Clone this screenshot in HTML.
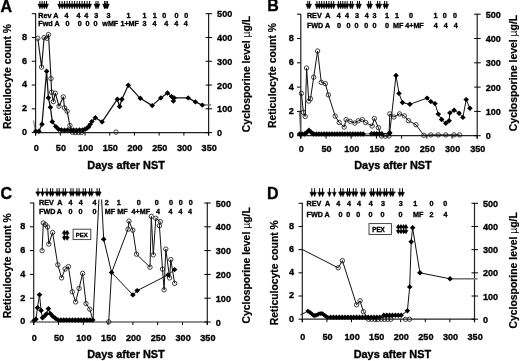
<!DOCTYPE html>
<html><head><meta charset="utf-8"><style>
html,body{margin:0;padding:0;background:#fff;width:520px;height:361px;overflow:hidden}
svg{display:block;will-change:transform}
text{fill:#000;stroke:#000;stroke-width:0.35px}
</style></head><body>
<svg width="520" height="361" viewBox="0 0 520 361" font-family='"Liberation Sans", sans-serif' font-weight="bold">
<rect width="520" height="361" fill="#fff"/>
<line x1="35.60" y1="13.20" x2="35.60" y2="135.60" stroke="#222" stroke-width="1.2" />
<line x1="208.60" y1="13.20" x2="208.60" y2="135.60" stroke="#222" stroke-width="1.2" />
<line x1="35.10" y1="132.60" x2="209.10" y2="132.60" stroke="#222" stroke-width="1.2" />
<line x1="31.80" y1="132.60" x2="35.60" y2="132.60" stroke="#000" stroke-width="1.0" />
<text transform="translate(27.00,135.00) scale(0.92,1)" font-size="9.9" text-anchor="end">0</text>
<line x1="31.80" y1="108.82" x2="35.60" y2="108.82" stroke="#000" stroke-width="1.0" />
<text transform="translate(27.00,111.22) scale(0.92,1)" font-size="9.9" text-anchor="end">2</text>
<line x1="31.80" y1="85.04" x2="35.60" y2="85.04" stroke="#000" stroke-width="1.0" />
<text transform="translate(27.00,87.44) scale(0.92,1)" font-size="9.9" text-anchor="end">4</text>
<line x1="31.80" y1="61.26" x2="35.60" y2="61.26" stroke="#000" stroke-width="1.0" />
<text transform="translate(27.00,63.66) scale(0.92,1)" font-size="9.9" text-anchor="end">6</text>
<line x1="31.80" y1="37.48" x2="35.60" y2="37.48" stroke="#000" stroke-width="1.0" />
<text transform="translate(27.00,39.88) scale(0.92,1)" font-size="9.9" text-anchor="end">8</text>
<line x1="31.80" y1="13.70" x2="35.60" y2="13.70" stroke="#000" stroke-width="1.0" />
<line x1="205.60" y1="132.60" x2="212.10" y2="132.60" stroke="#000" stroke-width="1.0" />
<text transform="translate(217.10,136.10) scale(0.92,1)" font-size="9.9" text-anchor="start">0</text>
<line x1="205.60" y1="108.82" x2="212.10" y2="108.82" stroke="#000" stroke-width="1.0" />
<text transform="translate(217.10,112.32) scale(0.92,1)" font-size="9.9" text-anchor="start">100</text>
<line x1="205.60" y1="85.04" x2="212.10" y2="85.04" stroke="#000" stroke-width="1.0" />
<text transform="translate(217.10,88.54) scale(0.92,1)" font-size="9.9" text-anchor="start">200</text>
<line x1="205.60" y1="61.26" x2="212.10" y2="61.26" stroke="#000" stroke-width="1.0" />
<text transform="translate(217.10,64.76) scale(0.92,1)" font-size="9.9" text-anchor="start">300</text>
<line x1="205.60" y1="37.48" x2="212.10" y2="37.48" stroke="#000" stroke-width="1.0" />
<text transform="translate(217.10,40.98) scale(0.92,1)" font-size="9.9" text-anchor="start">400</text>
<line x1="205.60" y1="13.70" x2="212.10" y2="13.70" stroke="#000" stroke-width="1.0" />
<text transform="translate(217.10,17.20) scale(0.92,1)" font-size="9.9" text-anchor="start">500</text>
<line x1="35.60" y1="132.60" x2="35.60" y2="135.60" stroke="#000" stroke-width="1.0" />
<text transform="translate(36.20,151.10) scale(0.92,1)" font-size="9.9" text-anchor="middle">0</text>
<line x1="60.31" y1="132.60" x2="60.31" y2="135.60" stroke="#000" stroke-width="1.0" />
<text transform="translate(60.91,151.10) scale(0.92,1)" font-size="9.9" text-anchor="middle">50</text>
<line x1="85.03" y1="132.60" x2="85.03" y2="135.60" stroke="#000" stroke-width="1.0" />
<text transform="translate(85.63,151.10) scale(0.92,1)" font-size="9.9" text-anchor="middle">100</text>
<line x1="109.74" y1="132.60" x2="109.74" y2="135.60" stroke="#000" stroke-width="1.0" />
<text transform="translate(110.34,151.10) scale(0.92,1)" font-size="9.9" text-anchor="middle">150</text>
<line x1="134.46" y1="132.60" x2="134.46" y2="135.60" stroke="#000" stroke-width="1.0" />
<text transform="translate(135.06,151.10) scale(0.92,1)" font-size="9.9" text-anchor="middle">200</text>
<line x1="159.17" y1="132.60" x2="159.17" y2="135.60" stroke="#000" stroke-width="1.0" />
<text transform="translate(159.77,151.10) scale(0.92,1)" font-size="9.9" text-anchor="middle">250</text>
<line x1="183.89" y1="132.60" x2="183.89" y2="135.60" stroke="#000" stroke-width="1.0" />
<text transform="translate(184.49,151.10) scale(0.92,1)" font-size="9.9" text-anchor="middle">300</text>
<line x1="208.60" y1="132.60" x2="208.60" y2="135.60" stroke="#000" stroke-width="1.0" />
<text transform="translate(209.20,151.10) scale(0.92,1)" font-size="9.9" text-anchor="middle">350</text>
<text x="126.10" y="168.60" font-size="10.9" text-anchor="middle" >Days after NST</text>
<text x="0" y="0" font-size="10.4" text-anchor="middle" style="stroke-width:0.2px" transform="translate(11.20,76.50) rotate(-90)">Reticulocyte count %</text>
<text x="0" y="0" font-size="10.4" text-anchor="middle" style="stroke-width:0.2px" transform="translate(250.20,74.00) rotate(-90)">Cyclosporine level <tspan font-weight="normal" stroke-width="0">µ</tspan>g/L</text>
<text x="0.60" y="11.50" font-size="16" text-anchor="start" >A</text>
<line x1="300.80" y1="13.70" x2="300.80" y2="138.70" stroke="#222" stroke-width="1.2" />
<line x1="477.20" y1="13.70" x2="477.20" y2="138.70" stroke="#222" stroke-width="1.2" />
<line x1="300.30" y1="135.70" x2="477.70" y2="135.70" stroke="#222" stroke-width="1.2" />
<line x1="297.00" y1="135.70" x2="300.80" y2="135.70" stroke="#000" stroke-width="1.0" />
<text transform="translate(293.75,138.10) scale(0.92,1)" font-size="9.9" text-anchor="end">0</text>
<line x1="297.00" y1="111.40" x2="300.80" y2="111.40" stroke="#000" stroke-width="1.0" />
<text transform="translate(293.75,113.80) scale(0.92,1)" font-size="9.9" text-anchor="end">2</text>
<line x1="297.00" y1="87.10" x2="300.80" y2="87.10" stroke="#000" stroke-width="1.0" />
<text transform="translate(293.75,89.50) scale(0.92,1)" font-size="9.9" text-anchor="end">4</text>
<line x1="297.00" y1="62.80" x2="300.80" y2="62.80" stroke="#000" stroke-width="1.0" />
<text transform="translate(293.75,65.20) scale(0.92,1)" font-size="9.9" text-anchor="end">6</text>
<line x1="297.00" y1="38.50" x2="300.80" y2="38.50" stroke="#000" stroke-width="1.0" />
<text transform="translate(293.75,40.90) scale(0.92,1)" font-size="9.9" text-anchor="end">8</text>
<line x1="297.00" y1="14.20" x2="300.80" y2="14.20" stroke="#000" stroke-width="1.0" />
<line x1="474.20" y1="135.70" x2="480.70" y2="135.70" stroke="#000" stroke-width="1.0" />
<text transform="translate(485.70,139.20) scale(0.92,1)" font-size="9.9" text-anchor="start">0</text>
<line x1="474.20" y1="111.40" x2="480.70" y2="111.40" stroke="#000" stroke-width="1.0" />
<text transform="translate(485.70,114.90) scale(0.92,1)" font-size="9.9" text-anchor="start">100</text>
<line x1="474.20" y1="87.10" x2="480.70" y2="87.10" stroke="#000" stroke-width="1.0" />
<text transform="translate(485.70,90.60) scale(0.92,1)" font-size="9.9" text-anchor="start">200</text>
<line x1="474.20" y1="62.80" x2="480.70" y2="62.80" stroke="#000" stroke-width="1.0" />
<text transform="translate(485.70,66.30) scale(0.92,1)" font-size="9.9" text-anchor="start">300</text>
<line x1="474.20" y1="38.50" x2="480.70" y2="38.50" stroke="#000" stroke-width="1.0" />
<text transform="translate(485.70,42.00) scale(0.92,1)" font-size="9.9" text-anchor="start">400</text>
<line x1="474.20" y1="14.20" x2="480.70" y2="14.20" stroke="#000" stroke-width="1.0" />
<text transform="translate(485.70,17.70) scale(0.92,1)" font-size="9.9" text-anchor="start">500</text>
<line x1="300.80" y1="135.70" x2="300.80" y2="138.70" stroke="#000" stroke-width="1.0" />
<text transform="translate(301.40,151.50) scale(0.92,1)" font-size="9.9" text-anchor="middle">0</text>
<line x1="326.00" y1="135.70" x2="326.00" y2="138.70" stroke="#000" stroke-width="1.0" />
<text transform="translate(326.60,151.50) scale(0.92,1)" font-size="9.9" text-anchor="middle">50</text>
<line x1="351.20" y1="135.70" x2="351.20" y2="138.70" stroke="#000" stroke-width="1.0" />
<text transform="translate(351.80,151.50) scale(0.92,1)" font-size="9.9" text-anchor="middle">100</text>
<line x1="376.40" y1="135.70" x2="376.40" y2="138.70" stroke="#000" stroke-width="1.0" />
<text transform="translate(377.00,151.50) scale(0.92,1)" font-size="9.9" text-anchor="middle">150</text>
<line x1="401.60" y1="135.70" x2="401.60" y2="138.70" stroke="#000" stroke-width="1.0" />
<text transform="translate(402.20,151.50) scale(0.92,1)" font-size="9.9" text-anchor="middle">200</text>
<line x1="426.80" y1="135.70" x2="426.80" y2="138.70" stroke="#000" stroke-width="1.0" />
<text transform="translate(427.40,151.50) scale(0.92,1)" font-size="9.9" text-anchor="middle">250</text>
<line x1="452.00" y1="135.70" x2="452.00" y2="138.70" stroke="#000" stroke-width="1.0" />
<text transform="translate(452.60,151.50) scale(0.92,1)" font-size="9.9" text-anchor="middle">300</text>
<line x1="477.20" y1="135.70" x2="477.20" y2="138.70" stroke="#000" stroke-width="1.0" />
<text transform="translate(477.80,151.50) scale(0.92,1)" font-size="9.9" text-anchor="middle">350</text>
<text x="393.00" y="168.50" font-size="10.9" text-anchor="middle" >Days after NST</text>
<text x="0" y="0" font-size="10.4" text-anchor="middle" style="stroke-width:0.2px" transform="translate(275.80,75.50) rotate(-90)">Reticulocyte count %</text>
<text x="0" y="0" font-size="10.4" text-anchor="middle" style="stroke-width:0.2px" transform="translate(516.50,73.00) rotate(-90)">Cyclosporine level <tspan font-weight="normal" stroke-width="0">µ</tspan>g/L</text>
<text x="267.30" y="11.40" font-size="16" text-anchor="start" >B</text>
<line x1="33.70" y1="202.50" x2="33.70" y2="325.00" stroke="#222" stroke-width="1.2" />
<line x1="207.30" y1="202.50" x2="207.30" y2="325.00" stroke="#222" stroke-width="1.2" />
<line x1="33.20" y1="322.00" x2="207.80" y2="322.00" stroke="#222" stroke-width="1.2" />
<line x1="29.90" y1="322.00" x2="33.70" y2="322.00" stroke="#000" stroke-width="1.0" />
<text transform="translate(25.20,324.40) scale(0.92,1)" font-size="9.9" text-anchor="end">0</text>
<line x1="29.90" y1="298.20" x2="33.70" y2="298.20" stroke="#000" stroke-width="1.0" />
<text transform="translate(25.20,300.60) scale(0.92,1)" font-size="9.9" text-anchor="end">2</text>
<line x1="29.90" y1="274.40" x2="33.70" y2="274.40" stroke="#000" stroke-width="1.0" />
<text transform="translate(25.20,276.80) scale(0.92,1)" font-size="9.9" text-anchor="end">4</text>
<line x1="29.90" y1="250.60" x2="33.70" y2="250.60" stroke="#000" stroke-width="1.0" />
<text transform="translate(25.20,253.00) scale(0.92,1)" font-size="9.9" text-anchor="end">6</text>
<line x1="29.90" y1="226.80" x2="33.70" y2="226.80" stroke="#000" stroke-width="1.0" />
<text transform="translate(25.20,229.20) scale(0.92,1)" font-size="9.9" text-anchor="end">8</text>
<line x1="29.90" y1="203.00" x2="33.70" y2="203.00" stroke="#000" stroke-width="1.0" />
<line x1="204.30" y1="322.00" x2="210.80" y2="322.00" stroke="#000" stroke-width="1.0" />
<text transform="translate(215.80,325.50) scale(0.92,1)" font-size="9.9" text-anchor="start">0</text>
<line x1="204.30" y1="298.20" x2="210.80" y2="298.20" stroke="#000" stroke-width="1.0" />
<text transform="translate(215.80,301.70) scale(0.92,1)" font-size="9.9" text-anchor="start">100</text>
<line x1="204.30" y1="274.40" x2="210.80" y2="274.40" stroke="#000" stroke-width="1.0" />
<text transform="translate(215.80,277.90) scale(0.92,1)" font-size="9.9" text-anchor="start">200</text>
<line x1="204.30" y1="250.60" x2="210.80" y2="250.60" stroke="#000" stroke-width="1.0" />
<text transform="translate(215.80,254.10) scale(0.92,1)" font-size="9.9" text-anchor="start">300</text>
<line x1="204.30" y1="226.80" x2="210.80" y2="226.80" stroke="#000" stroke-width="1.0" />
<text transform="translate(215.80,230.30) scale(0.92,1)" font-size="9.9" text-anchor="start">400</text>
<line x1="204.30" y1="203.00" x2="210.80" y2="203.00" stroke="#000" stroke-width="1.0" />
<text transform="translate(215.80,206.50) scale(0.92,1)" font-size="9.9" text-anchor="start">500</text>
<line x1="33.70" y1="322.00" x2="33.70" y2="325.00" stroke="#000" stroke-width="1.0" />
<text transform="translate(34.30,341.00) scale(0.92,1)" font-size="9.9" text-anchor="middle">0</text>
<line x1="58.50" y1="322.00" x2="58.50" y2="325.00" stroke="#000" stroke-width="1.0" />
<text transform="translate(59.10,341.00) scale(0.92,1)" font-size="9.9" text-anchor="middle">50</text>
<line x1="83.30" y1="322.00" x2="83.30" y2="325.00" stroke="#000" stroke-width="1.0" />
<text transform="translate(83.90,341.00) scale(0.92,1)" font-size="9.9" text-anchor="middle">100</text>
<line x1="108.10" y1="322.00" x2="108.10" y2="325.00" stroke="#000" stroke-width="1.0" />
<text transform="translate(108.70,341.00) scale(0.92,1)" font-size="9.9" text-anchor="middle">150</text>
<line x1="132.90" y1="322.00" x2="132.90" y2="325.00" stroke="#000" stroke-width="1.0" />
<text transform="translate(133.50,341.00) scale(0.92,1)" font-size="9.9" text-anchor="middle">200</text>
<line x1="157.70" y1="322.00" x2="157.70" y2="325.00" stroke="#000" stroke-width="1.0" />
<text transform="translate(158.30,341.00) scale(0.92,1)" font-size="9.9" text-anchor="middle">250</text>
<line x1="182.50" y1="322.00" x2="182.50" y2="325.00" stroke="#000" stroke-width="1.0" />
<text transform="translate(183.10,341.00) scale(0.92,1)" font-size="9.9" text-anchor="middle">300</text>
<line x1="207.30" y1="322.00" x2="207.30" y2="325.00" stroke="#000" stroke-width="1.0" />
<text transform="translate(207.90,341.00) scale(0.92,1)" font-size="9.9" text-anchor="middle">350</text>
<text x="126.00" y="358.00" font-size="10.9" text-anchor="middle" >Days after NST</text>
<text x="0" y="0" font-size="10.4" text-anchor="middle" style="stroke-width:0.2px" transform="translate(11.20,265.70) rotate(-90)">Reticulocyte count %</text>
<text x="0" y="0" font-size="10.4" text-anchor="middle" style="stroke-width:0.2px" transform="translate(250.20,265.40) rotate(-90)">Cyclosporine level <tspan font-weight="normal" stroke-width="0">µ</tspan>g/L</text>
<text x="0.50" y="199.40" font-size="16" text-anchor="start" >C</text>
<line x1="302.30" y1="202.80" x2="302.30" y2="322.20" stroke="#222" stroke-width="1.2" />
<line x1="474.50" y1="202.80" x2="474.50" y2="322.20" stroke="#222" stroke-width="1.2" />
<line x1="301.80" y1="319.20" x2="475.00" y2="319.20" stroke="#222" stroke-width="1.2" />
<line x1="298.50" y1="319.20" x2="302.30" y2="319.20" stroke="#000" stroke-width="1.0" />
<text transform="translate(294.10,321.60) scale(0.92,1)" font-size="9.9" text-anchor="end">0</text>
<line x1="298.50" y1="296.02" x2="302.30" y2="296.02" stroke="#000" stroke-width="1.0" />
<text transform="translate(294.10,298.42) scale(0.92,1)" font-size="9.9" text-anchor="end">2</text>
<line x1="298.50" y1="272.84" x2="302.30" y2="272.84" stroke="#000" stroke-width="1.0" />
<text transform="translate(294.10,275.24) scale(0.92,1)" font-size="9.9" text-anchor="end">4</text>
<line x1="298.50" y1="249.66" x2="302.30" y2="249.66" stroke="#000" stroke-width="1.0" />
<text transform="translate(294.10,252.06) scale(0.92,1)" font-size="9.9" text-anchor="end">6</text>
<line x1="298.50" y1="226.48" x2="302.30" y2="226.48" stroke="#000" stroke-width="1.0" />
<text transform="translate(294.10,228.88) scale(0.92,1)" font-size="9.9" text-anchor="end">8</text>
<line x1="298.50" y1="203.30" x2="302.30" y2="203.30" stroke="#000" stroke-width="1.0" />
<line x1="471.50" y1="319.20" x2="478.00" y2="319.20" stroke="#000" stroke-width="1.0" />
<text transform="translate(483.00,322.70) scale(0.92,1)" font-size="9.9" text-anchor="start">0</text>
<line x1="471.50" y1="296.02" x2="478.00" y2="296.02" stroke="#000" stroke-width="1.0" />
<text transform="translate(483.00,299.52) scale(0.92,1)" font-size="9.9" text-anchor="start">100</text>
<line x1="471.50" y1="272.84" x2="478.00" y2="272.84" stroke="#000" stroke-width="1.0" />
<text transform="translate(483.00,276.34) scale(0.92,1)" font-size="9.9" text-anchor="start">200</text>
<line x1="471.50" y1="249.66" x2="478.00" y2="249.66" stroke="#000" stroke-width="1.0" />
<text transform="translate(483.00,253.16) scale(0.92,1)" font-size="9.9" text-anchor="start">300</text>
<line x1="471.50" y1="226.48" x2="478.00" y2="226.48" stroke="#000" stroke-width="1.0" />
<text transform="translate(483.00,229.98) scale(0.92,1)" font-size="9.9" text-anchor="start">400</text>
<line x1="471.50" y1="203.30" x2="478.00" y2="203.30" stroke="#000" stroke-width="1.0" />
<text transform="translate(483.00,206.80) scale(0.92,1)" font-size="9.9" text-anchor="start">500</text>
<line x1="302.30" y1="319.20" x2="302.30" y2="322.20" stroke="#000" stroke-width="1.0" />
<text transform="translate(302.90,339.80) scale(0.92,1)" font-size="9.9" text-anchor="middle">0</text>
<line x1="326.90" y1="319.20" x2="326.90" y2="322.20" stroke="#000" stroke-width="1.0" />
<text transform="translate(327.50,339.80) scale(0.92,1)" font-size="9.9" text-anchor="middle">50</text>
<line x1="351.50" y1="319.20" x2="351.50" y2="322.20" stroke="#000" stroke-width="1.0" />
<text transform="translate(352.10,339.80) scale(0.92,1)" font-size="9.9" text-anchor="middle">100</text>
<line x1="376.10" y1="319.20" x2="376.10" y2="322.20" stroke="#000" stroke-width="1.0" />
<text transform="translate(376.70,339.80) scale(0.92,1)" font-size="9.9" text-anchor="middle">150</text>
<line x1="400.70" y1="319.20" x2="400.70" y2="322.20" stroke="#000" stroke-width="1.0" />
<text transform="translate(401.30,339.80) scale(0.92,1)" font-size="9.9" text-anchor="middle">200</text>
<line x1="425.30" y1="319.20" x2="425.30" y2="322.20" stroke="#000" stroke-width="1.0" />
<text transform="translate(425.90,339.80) scale(0.92,1)" font-size="9.9" text-anchor="middle">250</text>
<line x1="449.90" y1="319.20" x2="449.90" y2="322.20" stroke="#000" stroke-width="1.0" />
<text transform="translate(450.50,339.80) scale(0.92,1)" font-size="9.9" text-anchor="middle">300</text>
<line x1="474.50" y1="319.20" x2="474.50" y2="322.20" stroke="#000" stroke-width="1.0" />
<text transform="translate(475.10,339.80) scale(0.92,1)" font-size="9.9" text-anchor="middle">350</text>
<text x="392.40" y="358.20" font-size="10.9" text-anchor="middle" >Days after NST</text>
<text x="0" y="0" font-size="10.4" text-anchor="middle" style="stroke-width:0.2px" transform="translate(277.60,272.70) rotate(-90)">Reticulocyte count %</text>
<text x="0" y="0" font-size="10.4" text-anchor="middle" style="stroke-width:0.2px" transform="translate(516.50,270.30) rotate(-90)">Cyclosporine level <tspan font-weight="normal" stroke-width="0">µ</tspan>g/L</text>
<text x="267.00" y="198.70" font-size="16" text-anchor="start" >D</text>
<text x="38.30" y="17.60" font-size="7.2" text-anchor="start" >Rev A</text>
<text x="66.40" y="17.60" font-size="7.2" text-anchor="middle" >4</text>
<text x="78.40" y="17.60" font-size="7.2" text-anchor="middle" >4</text>
<text x="86.30" y="17.60" font-size="7.2" text-anchor="middle" >4</text>
<text x="96.30" y="17.60" font-size="7.2" text-anchor="middle" >3</text>
<text x="108.50" y="17.60" font-size="7.2" text-anchor="middle" >3</text>
<text x="128.60" y="17.60" font-size="7.2" text-anchor="middle" >1</text>
<text x="144.50" y="17.60" font-size="7.2" text-anchor="middle" >1</text>
<text x="154.70" y="17.60" font-size="7.2" text-anchor="middle" >1</text>
<text x="164.30" y="17.60" font-size="7.2" text-anchor="middle" >0</text>
<text x="176.40" y="17.60" font-size="7.2" text-anchor="middle" >0</text>
<text x="186.20" y="17.60" font-size="7.2" text-anchor="middle" >0</text>
<text x="38.30" y="25.80" font-size="7.2" text-anchor="start" >Fwd A</text>
<text x="67.60" y="25.80" font-size="7.2" text-anchor="middle" >0</text>
<text x="79.80" y="25.80" font-size="7.2" text-anchor="middle" >0</text>
<text x="87.50" y="25.80" font-size="7.2" text-anchor="middle" >0</text>
<text x="95.60" y="25.80" font-size="7.2" text-anchor="middle" >0</text>
<text x="102.30" y="25.80" font-size="7.2" text-anchor="start" >wMF</text>
<text x="120.40" y="25.80" font-size="7.2" text-anchor="start" >1+MF</text>
<text x="144.40" y="25.80" font-size="7.2" text-anchor="middle" >3</text>
<text x="154.60" y="25.80" font-size="7.2" text-anchor="middle" >4</text>
<text x="166.20" y="25.80" font-size="7.2" text-anchor="middle" >4</text>
<text x="176.20" y="25.80" font-size="7.2" text-anchor="middle" >4</text>
<text x="185.80" y="25.80" font-size="7.2" text-anchor="middle" >4</text>
<text x="306.90" y="17.80" font-size="7.2" text-anchor="start" >REV</text>
<text x="325.30" y="17.80" font-size="7.2" text-anchor="start" >A</text>
<text x="338.70" y="17.80" font-size="7.2" text-anchor="middle" >4</text>
<text x="346.90" y="17.80" font-size="7.2" text-anchor="middle" >4</text>
<text x="356.90" y="17.80" font-size="7.2" text-anchor="middle" >3</text>
<text x="366.80" y="17.80" font-size="7.2" text-anchor="middle" >4</text>
<text x="374.60" y="17.80" font-size="7.2" text-anchor="middle" >3</text>
<text x="386.90" y="17.80" font-size="7.2" text-anchor="middle" >1</text>
<text x="397.00" y="17.80" font-size="7.2" text-anchor="middle" >1</text>
<text x="411.00" y="17.80" font-size="7.2" text-anchor="middle" >0</text>
<text x="435.50" y="17.80" font-size="7.2" text-anchor="middle" >1</text>
<text x="444.80" y="17.80" font-size="7.2" text-anchor="middle" >0</text>
<text x="455.00" y="17.80" font-size="7.2" text-anchor="middle" >0</text>
<text x="306.90" y="28.20" font-size="7.2" text-anchor="start" >FWD</text>
<text x="325.10" y="28.20" font-size="7.2" text-anchor="start" >A</text>
<text x="338.90" y="28.20" font-size="7.2" text-anchor="middle" >0</text>
<text x="348.40" y="28.20" font-size="7.2" text-anchor="middle" >0</text>
<text x="356.50" y="28.20" font-size="7.2" text-anchor="middle" >0</text>
<text x="366.30" y="28.20" font-size="7.2" text-anchor="middle" >0</text>
<text x="374.60" y="28.20" font-size="7.2" text-anchor="middle" >0</text>
<text x="386.90" y="28.20" font-size="7.2" text-anchor="middle" >0</text>
<text x="393.10" y="28.20" font-size="7.2" text-anchor="start" >MF</text>
<text x="405.20" y="28.20" font-size="7.2" text-anchor="start" >4+MF</text>
<text x="435.80" y="28.20" font-size="7.2" text-anchor="middle" >4</text>
<text x="445.70" y="28.20" font-size="7.2" text-anchor="middle" >4</text>
<text x="455.70" y="28.20" font-size="7.2" text-anchor="middle" >4</text>
<text x="39.00" y="205.20" font-size="7.2" text-anchor="start" >REV</text>
<text x="57.20" y="205.20" font-size="7.2" text-anchor="start" >A</text>
<text x="70.40" y="205.20" font-size="7.2" text-anchor="middle" >4</text>
<text x="80.80" y="205.20" font-size="7.2" text-anchor="middle" >4</text>
<text x="94.40" y="205.20" font-size="7.2" text-anchor="middle" >4</text>
<text x="106.70" y="205.20" font-size="7.2" text-anchor="middle" >2</text>
<text x="118.80" y="205.20" font-size="7.2" text-anchor="middle" >1</text>
<text x="138.80" y="205.20" font-size="7.2" text-anchor="middle" >0</text>
<text x="156.80" y="205.20" font-size="7.2" text-anchor="middle" >0</text>
<text x="170.90" y="205.20" font-size="7.2" text-anchor="middle" >0</text>
<text x="180.70" y="205.20" font-size="7.2" text-anchor="middle" >0</text>
<text x="190.70" y="205.20" font-size="7.2" text-anchor="middle" >0</text>
<text x="39.00" y="213.70" font-size="7.2" text-anchor="start" >FWD</text>
<text x="56.80" y="213.70" font-size="7.2" text-anchor="start" >A</text>
<text x="70.40" y="213.70" font-size="7.2" text-anchor="middle" >0</text>
<text x="80.60" y="213.70" font-size="7.2" text-anchor="middle" >0</text>
<text x="94.40" y="213.70" font-size="7.2" text-anchor="middle" >0</text>
<text x="104.80" y="213.70" font-size="7.2" text-anchor="start" >MF</text>
<text x="117.30" y="213.70" font-size="7.2" text-anchor="start" >MF</text>
<text x="131.50" y="213.70" font-size="7.2" text-anchor="start" >4+MF</text>
<text x="157.90" y="213.70" font-size="7.2" text-anchor="middle" >4</text>
<text x="170.40" y="213.70" font-size="7.2" text-anchor="middle" >4</text>
<text x="180.40" y="213.70" font-size="7.2" text-anchor="middle" >4</text>
<text x="190.10" y="213.70" font-size="7.2" text-anchor="middle" >4</text>
<text x="306.50" y="205.50" font-size="7.2" text-anchor="start" >REV</text>
<text x="325.10" y="205.50" font-size="7.2" text-anchor="start" >A</text>
<text x="338.30" y="205.50" font-size="7.2" text-anchor="middle" >4</text>
<text x="348.90" y="205.50" font-size="7.2" text-anchor="middle" >4</text>
<text x="358.90" y="205.50" font-size="7.2" text-anchor="middle" >4</text>
<text x="370.70" y="205.50" font-size="7.2" text-anchor="middle" >4</text>
<text x="383.00" y="205.50" font-size="7.2" text-anchor="middle" >3</text>
<text x="400.80" y="205.50" font-size="7.2" text-anchor="middle" >3</text>
<text x="415.20" y="205.50" font-size="7.2" text-anchor="middle" >1</text>
<text x="431.50" y="205.50" font-size="7.2" text-anchor="middle" >0</text>
<text x="445.30" y="205.50" font-size="7.2" text-anchor="middle" >0</text>
<text x="306.50" y="216.70" font-size="7.2" text-anchor="start" >FWD</text>
<text x="324.60" y="216.70" font-size="7.2" text-anchor="start" >A</text>
<text x="340.40" y="216.70" font-size="7.2" text-anchor="middle" >0</text>
<text x="348.20" y="216.70" font-size="7.2" text-anchor="middle" >0</text>
<text x="358.30" y="216.70" font-size="7.2" text-anchor="middle" >0</text>
<text x="370.40" y="216.70" font-size="7.2" text-anchor="middle" >0</text>
<text x="382.60" y="216.70" font-size="7.2" text-anchor="middle" >0</text>
<text x="400.50" y="216.70" font-size="7.2" text-anchor="middle" >0</text>
<text x="413.00" y="216.70" font-size="7.2" text-anchor="start" >MF</text>
<text x="431.50" y="216.70" font-size="7.2" text-anchor="middle" >2</text>
<text x="445.40" y="216.70" font-size="7.2" text-anchor="middle" >4</text>
<line x1="39.90" y1="1.00" x2="39.90" y2="4.50" stroke="#000" stroke-width="1.0" />
<line x1="42.10" y1="1.00" x2="42.10" y2="4.50" stroke="#000" stroke-width="1.0" />
<line x1="44.30" y1="1.00" x2="44.30" y2="4.50" stroke="#000" stroke-width="1.0" />
<line x1="46.50" y1="1.00" x2="46.50" y2="4.50" stroke="#000" stroke-width="1.0" />
<line x1="59.60" y1="1.00" x2="59.60" y2="4.50" stroke="#000" stroke-width="1.0" />
<line x1="62.10" y1="1.00" x2="62.10" y2="4.50" stroke="#000" stroke-width="1.0" />
<line x1="64.60" y1="1.00" x2="64.60" y2="4.50" stroke="#000" stroke-width="1.0" />
<line x1="67.10" y1="1.00" x2="67.10" y2="4.50" stroke="#000" stroke-width="1.0" />
<line x1="69.60" y1="1.00" x2="69.60" y2="4.50" stroke="#000" stroke-width="1.0" />
<line x1="72.10" y1="1.00" x2="72.10" y2="4.50" stroke="#000" stroke-width="1.0" />
<line x1="74.60" y1="1.00" x2="74.60" y2="4.50" stroke="#000" stroke-width="1.0" />
<line x1="77.10" y1="1.00" x2="77.10" y2="4.50" stroke="#000" stroke-width="1.0" />
<line x1="79.60" y1="1.00" x2="79.60" y2="4.50" stroke="#000" stroke-width="1.0" />
<line x1="82.10" y1="1.00" x2="82.10" y2="4.50" stroke="#000" stroke-width="1.0" />
<line x1="84.60" y1="1.00" x2="84.60" y2="4.50" stroke="#000" stroke-width="1.0" />
<line x1="87.10" y1="1.00" x2="87.10" y2="4.50" stroke="#000" stroke-width="1.0" />
<line x1="89.60" y1="1.00" x2="89.60" y2="4.50" stroke="#000" stroke-width="1.0" />
<line x1="96.00" y1="1.00" x2="96.00" y2="4.50" stroke="#000" stroke-width="1.0" />
<line x1="98.00" y1="1.00" x2="98.00" y2="4.50" stroke="#000" stroke-width="1.0" />
<line x1="104.60" y1="1.00" x2="104.60" y2="4.50" stroke="#000" stroke-width="1.0" />
<line x1="106.00" y1="1.00" x2="106.00" y2="4.50" stroke="#000" stroke-width="1.0" />
<line x1="107.40" y1="1.00" x2="107.40" y2="4.50" stroke="#000" stroke-width="1.0" />
<path d="M37.90 4.00L41.90 4.00L39.90 9.00ZM40.10 4.00L44.10 4.00L42.10 9.00ZM42.30 4.00L46.30 4.00L44.30 9.00ZM44.50 4.00L48.50 4.00L46.50 9.00ZM57.60 4.00L61.60 4.00L59.60 9.00ZM60.10 4.00L64.10 4.00L62.10 9.00ZM62.60 4.00L66.60 4.00L64.60 9.00ZM65.10 4.00L69.10 4.00L67.10 9.00ZM67.60 4.00L71.60 4.00L69.60 9.00ZM70.10 4.00L74.10 4.00L72.10 9.00ZM72.60 4.00L76.60 4.00L74.60 9.00ZM75.10 4.00L79.10 4.00L77.10 9.00ZM77.60 4.00L81.60 4.00L79.60 9.00ZM80.10 4.00L84.10 4.00L82.10 9.00ZM82.60 4.00L86.60 4.00L84.60 9.00ZM85.10 4.00L89.10 4.00L87.10 9.00ZM87.60 4.00L91.60 4.00L89.60 9.00ZM94.00 4.00L98.00 4.00L96.00 9.00ZM96.00 4.00L100.00 4.00L98.00 9.00ZM102.60 4.00L106.60 4.00L104.60 9.00ZM104.00 4.00L108.00 4.00L106.00 9.00ZM105.40 4.00L109.40 4.00L107.40 9.00Z" fill="#000" stroke="#000" stroke-width="0.4" stroke-linejoin="round"/>
<line x1="307.80" y1="1.00" x2="307.80" y2="4.50" stroke="#000" stroke-width="1.0" />
<line x1="309.60" y1="1.00" x2="309.60" y2="4.50" stroke="#000" stroke-width="1.0" />
<line x1="316.90" y1="1.00" x2="316.90" y2="4.50" stroke="#000" stroke-width="1.0" />
<line x1="319.30" y1="1.00" x2="319.30" y2="4.50" stroke="#000" stroke-width="1.0" />
<line x1="321.70" y1="1.00" x2="321.70" y2="4.50" stroke="#000" stroke-width="1.0" />
<line x1="324.10" y1="1.00" x2="324.10" y2="4.50" stroke="#000" stroke-width="1.0" />
<line x1="326.50" y1="1.00" x2="326.50" y2="4.50" stroke="#000" stroke-width="1.0" />
<line x1="328.90" y1="1.00" x2="328.90" y2="4.50" stroke="#000" stroke-width="1.0" />
<line x1="331.30" y1="1.00" x2="331.30" y2="4.50" stroke="#000" stroke-width="1.0" />
<line x1="333.70" y1="1.00" x2="333.70" y2="4.50" stroke="#000" stroke-width="1.0" />
<line x1="338.40" y1="1.00" x2="338.40" y2="4.50" stroke="#000" stroke-width="1.0" />
<line x1="340.60" y1="1.00" x2="340.60" y2="4.50" stroke="#000" stroke-width="1.0" />
<line x1="342.80" y1="1.00" x2="342.80" y2="4.50" stroke="#000" stroke-width="1.0" />
<line x1="345.00" y1="1.00" x2="345.00" y2="4.50" stroke="#000" stroke-width="1.0" />
<line x1="347.20" y1="1.00" x2="347.20" y2="4.50" stroke="#000" stroke-width="1.0" />
<line x1="350.50" y1="1.00" x2="350.50" y2="4.50" stroke="#000" stroke-width="1.0" />
<line x1="352.30" y1="1.00" x2="352.30" y2="4.50" stroke="#000" stroke-width="1.0" />
<line x1="357.60" y1="1.00" x2="357.60" y2="4.50" stroke="#000" stroke-width="1.0" />
<line x1="359.50" y1="1.00" x2="359.50" y2="4.50" stroke="#000" stroke-width="1.0" />
<line x1="368.60" y1="1.00" x2="368.60" y2="4.50" stroke="#000" stroke-width="1.0" />
<line x1="370.60" y1="1.00" x2="370.60" y2="4.50" stroke="#000" stroke-width="1.0" />
<line x1="377.60" y1="1.00" x2="377.60" y2="4.50" stroke="#000" stroke-width="1.0" />
<line x1="379.80" y1="1.00" x2="379.80" y2="4.50" stroke="#000" stroke-width="1.0" />
<line x1="384.60" y1="1.00" x2="384.60" y2="4.50" stroke="#000" stroke-width="1.0" />
<line x1="386.80" y1="1.00" x2="386.80" y2="4.50" stroke="#000" stroke-width="1.0" />
<path d="M305.80 4.00L309.80 4.00L307.80 9.00ZM307.60 4.00L311.60 4.00L309.60 9.00ZM314.90 4.00L318.90 4.00L316.90 9.00ZM317.30 4.00L321.30 4.00L319.30 9.00ZM319.70 4.00L323.70 4.00L321.70 9.00ZM322.10 4.00L326.10 4.00L324.10 9.00ZM324.50 4.00L328.50 4.00L326.50 9.00ZM326.90 4.00L330.90 4.00L328.90 9.00ZM329.30 4.00L333.30 4.00L331.30 9.00ZM331.70 4.00L335.70 4.00L333.70 9.00ZM336.40 4.00L340.40 4.00L338.40 9.00ZM338.60 4.00L342.60 4.00L340.60 9.00ZM340.80 4.00L344.80 4.00L342.80 9.00ZM343.00 4.00L347.00 4.00L345.00 9.00ZM345.20 4.00L349.20 4.00L347.20 9.00ZM348.50 4.00L352.50 4.00L350.50 9.00ZM350.30 4.00L354.30 4.00L352.30 9.00ZM355.60 4.00L359.60 4.00L357.60 9.00ZM357.50 4.00L361.50 4.00L359.50 9.00ZM366.60 4.00L370.60 4.00L368.60 9.00ZM368.60 4.00L372.60 4.00L370.60 9.00ZM375.60 4.00L379.60 4.00L377.60 9.00ZM377.80 4.00L381.80 4.00L379.80 9.00ZM382.60 4.00L386.60 4.00L384.60 9.00ZM384.80 4.00L388.80 4.00L386.80 9.00Z" fill="#000" stroke="#000" stroke-width="0.4" stroke-linejoin="round"/>
<line x1="38.00" y1="188.20" x2="38.00" y2="192.50" stroke="#000" stroke-width="1.0" />
<line x1="42.50" y1="188.20" x2="42.50" y2="192.50" stroke="#000" stroke-width="1.0" />
<line x1="47.00" y1="188.20" x2="47.00" y2="192.50" stroke="#000" stroke-width="1.0" />
<line x1="50.50" y1="188.20" x2="50.50" y2="192.50" stroke="#000" stroke-width="1.0" />
<line x1="52.70" y1="188.20" x2="52.70" y2="192.50" stroke="#000" stroke-width="1.0" />
<line x1="57.00" y1="188.20" x2="57.00" y2="192.50" stroke="#000" stroke-width="1.0" />
<line x1="59.20" y1="188.20" x2="59.20" y2="192.50" stroke="#000" stroke-width="1.0" />
<line x1="63.20" y1="188.20" x2="63.20" y2="192.50" stroke="#000" stroke-width="1.0" />
<line x1="65.40" y1="188.20" x2="65.40" y2="192.50" stroke="#000" stroke-width="1.0" />
<line x1="70.90" y1="188.20" x2="70.90" y2="192.50" stroke="#000" stroke-width="1.0" />
<line x1="73.10" y1="188.20" x2="73.10" y2="192.50" stroke="#000" stroke-width="1.0" />
<line x1="76.90" y1="188.20" x2="76.90" y2="192.50" stroke="#000" stroke-width="1.0" />
<line x1="79.10" y1="188.20" x2="79.10" y2="192.50" stroke="#000" stroke-width="1.0" />
<line x1="83.20" y1="188.20" x2="83.20" y2="192.50" stroke="#000" stroke-width="1.0" />
<line x1="85.40" y1="188.20" x2="85.40" y2="192.50" stroke="#000" stroke-width="1.0" />
<line x1="89.60" y1="188.20" x2="89.60" y2="192.50" stroke="#000" stroke-width="1.0" />
<line x1="91.80" y1="188.20" x2="91.80" y2="192.50" stroke="#000" stroke-width="1.0" />
<line x1="97.10" y1="188.20" x2="97.10" y2="192.50" stroke="#000" stroke-width="1.0" />
<line x1="99.30" y1="188.20" x2="99.30" y2="192.50" stroke="#000" stroke-width="1.0" />
<path d="M36.00 192.00L40.00 192.00L38.00 196.50ZM40.50 192.00L44.50 192.00L42.50 196.50ZM45.00 192.00L49.00 192.00L47.00 196.50ZM48.50 192.00L52.50 192.00L50.50 196.50ZM50.70 192.00L54.70 192.00L52.70 196.50ZM55.00 192.00L59.00 192.00L57.00 196.50ZM57.20 192.00L61.20 192.00L59.20 196.50ZM61.20 192.00L65.20 192.00L63.20 196.50ZM63.40 192.00L67.40 192.00L65.40 196.50ZM68.90 192.00L72.90 192.00L70.90 196.50ZM71.10 192.00L75.10 192.00L73.10 196.50ZM74.90 192.00L78.90 192.00L76.90 196.50ZM77.10 192.00L81.10 192.00L79.10 196.50ZM81.20 192.00L85.20 192.00L83.20 196.50ZM83.40 192.00L87.40 192.00L85.40 196.50ZM87.60 192.00L91.60 192.00L89.60 196.50ZM89.80 192.00L93.80 192.00L91.80 196.50ZM95.10 192.00L99.10 192.00L97.10 196.50ZM97.30 192.00L101.30 192.00L99.30 196.50Z" fill="#000" stroke="#000" stroke-width="0.4" stroke-linejoin="round"/>
<line x1="35.50" y1="192.20" x2="101.00" y2="192.20" stroke="#000" stroke-width="1.0" />
<line x1="311.80" y1="188.20" x2="311.80" y2="192.70" stroke="#000" stroke-width="1.0" />
<line x1="314.60" y1="188.20" x2="314.60" y2="192.70" stroke="#000" stroke-width="1.0" />
<line x1="319.60" y1="188.20" x2="319.60" y2="192.70" stroke="#000" stroke-width="1.0" />
<line x1="322.60" y1="188.20" x2="322.60" y2="192.70" stroke="#000" stroke-width="1.0" />
<line x1="329.40" y1="188.20" x2="329.40" y2="192.70" stroke="#000" stroke-width="1.0" />
<line x1="334.30" y1="188.20" x2="334.30" y2="192.70" stroke="#000" stroke-width="1.0" />
<line x1="340.60" y1="188.20" x2="340.60" y2="192.70" stroke="#000" stroke-width="1.0" />
<line x1="343.00" y1="188.20" x2="343.00" y2="192.70" stroke="#000" stroke-width="1.0" />
<line x1="347.50" y1="188.20" x2="347.50" y2="192.70" stroke="#000" stroke-width="1.0" />
<line x1="349.50" y1="188.20" x2="349.50" y2="192.70" stroke="#000" stroke-width="1.0" />
<line x1="353.30" y1="188.20" x2="353.30" y2="192.70" stroke="#000" stroke-width="1.0" />
<line x1="356.00" y1="188.20" x2="356.00" y2="192.70" stroke="#000" stroke-width="1.0" />
<line x1="361.80" y1="188.20" x2="361.80" y2="192.70" stroke="#000" stroke-width="1.0" />
<line x1="364.30" y1="188.20" x2="364.30" y2="192.70" stroke="#000" stroke-width="1.0" />
<line x1="371.20" y1="188.20" x2="371.20" y2="192.70" stroke="#000" stroke-width="1.0" />
<line x1="373.50" y1="188.20" x2="373.50" y2="192.70" stroke="#000" stroke-width="1.0" />
<line x1="377.50" y1="188.20" x2="377.50" y2="192.70" stroke="#000" stroke-width="1.0" />
<line x1="380.20" y1="188.20" x2="380.20" y2="192.70" stroke="#000" stroke-width="1.0" />
<line x1="384.30" y1="188.20" x2="384.30" y2="192.70" stroke="#000" stroke-width="1.0" />
<line x1="386.60" y1="188.20" x2="386.60" y2="192.70" stroke="#000" stroke-width="1.0" />
<line x1="390.60" y1="188.20" x2="390.60" y2="192.70" stroke="#000" stroke-width="1.0" />
<line x1="392.90" y1="188.20" x2="392.90" y2="192.70" stroke="#000" stroke-width="1.0" />
<line x1="399.80" y1="188.20" x2="399.80" y2="192.70" stroke="#000" stroke-width="1.0" />
<line x1="402.50" y1="188.20" x2="402.50" y2="192.70" stroke="#000" stroke-width="1.0" />
<path d="M309.80 192.20L313.80 192.20L311.80 196.80ZM312.60 192.20L316.60 192.20L314.60 196.80ZM317.60 192.20L321.60 192.20L319.60 196.80ZM320.60 192.20L324.60 192.20L322.60 196.80ZM327.40 192.20L331.40 192.20L329.40 196.80ZM332.30 192.20L336.30 192.20L334.30 196.80ZM338.60 192.20L342.60 192.20L340.60 196.80ZM341.00 192.20L345.00 192.20L343.00 196.80ZM345.50 192.20L349.50 192.20L347.50 196.80ZM347.50 192.20L351.50 192.20L349.50 196.80ZM351.30 192.20L355.30 192.20L353.30 196.80ZM354.00 192.20L358.00 192.20L356.00 196.80ZM359.80 192.20L363.80 192.20L361.80 196.80ZM362.30 192.20L366.30 192.20L364.30 196.80ZM369.20 192.20L373.20 192.20L371.20 196.80ZM371.50 192.20L375.50 192.20L373.50 196.80ZM375.50 192.20L379.50 192.20L377.50 196.80ZM378.20 192.20L382.20 192.20L380.20 196.80ZM382.30 192.20L386.30 192.20L384.30 196.80ZM384.60 192.20L388.60 192.20L386.60 196.80ZM388.60 192.20L392.60 192.20L390.60 196.80ZM390.90 192.20L394.90 192.20L392.90 196.80ZM397.80 192.20L401.80 192.20L399.80 196.80ZM400.50 192.20L404.50 192.20L402.50 196.80Z" fill="#000" stroke="#000" stroke-width="0.4" stroke-linejoin="round"/>
<line x1="338.60" y1="192.20" x2="357.90" y2="192.20" stroke="#000" stroke-width="1.0" />
<line x1="369.50" y1="192.20" x2="395.60" y2="192.20" stroke="#000" stroke-width="1.0" />
<rect x="73.10" y="229.20" width="17.70" height="10.40" fill="#fff" stroke="#333" stroke-width="0.9"/>
<text x="75.80" y="236.60" font-size="5.9" text-anchor="start" >PEX</text>
<path d="M62.10 233.40L66.50 233.40L64.30 230.00ZM62.10 237.00L66.50 237.00L64.30 240.40ZM65.00 233.40L69.40 233.40L67.20 230.00ZM65.00 237.00L69.40 237.00L67.20 240.40Z" fill="#000" stroke="#000" stroke-width="0.3"/>
<line x1="64.30" y1="231.00" x2="64.30" y2="239.40" stroke="#000" stroke-width="1.2" />
<line x1="67.20" y1="231.00" x2="67.20" y2="239.40" stroke="#000" stroke-width="1.2" />
<line x1="62.80" y1="234.00" x2="68.70" y2="234.00" stroke="#000" stroke-width="0.9" />
<line x1="62.80" y1="236.40" x2="68.70" y2="236.40" stroke="#000" stroke-width="0.9" />
<rect x="369.00" y="223.60" width="22.40" height="10.90" fill="#fff" stroke="#333" stroke-width="0.9"/>
<text x="372.20" y="231.60" font-size="6.3" text-anchor="start" >PEX</text>
<path d="M396.10 227.70L400.50 227.70L398.30 224.30ZM396.10 230.50L400.50 230.50L398.30 233.90ZM398.80 227.70L403.20 227.70L401.00 224.30ZM398.80 230.50L403.20 230.50L401.00 233.90ZM401.40 227.70L405.80 227.70L403.60 224.30ZM401.40 230.50L405.80 230.50L403.60 233.90ZM403.80 227.70L408.20 227.70L406.00 224.30ZM403.80 230.50L408.20 230.50L406.00 233.90Z" fill="#000" stroke="#000" stroke-width="0.3"/>
<line x1="398.30" y1="225.30" x2="398.30" y2="232.90" stroke="#000" stroke-width="1.2" />
<line x1="401.00" y1="225.30" x2="401.00" y2="232.90" stroke="#000" stroke-width="1.2" />
<line x1="403.60" y1="225.30" x2="403.60" y2="232.90" stroke="#000" stroke-width="1.2" />
<line x1="406.00" y1="225.30" x2="406.00" y2="232.90" stroke="#000" stroke-width="1.2" />
<line x1="396.80" y1="227.90" x2="407.50" y2="227.90" stroke="#000" stroke-width="0.9" />
<line x1="396.80" y1="230.30" x2="407.50" y2="230.30" stroke="#000" stroke-width="0.9" />
<line x1="33.60" y1="120.50" x2="35.30" y2="130.50" stroke="#555" stroke-width="0.9" />
<line x1="202.30" y1="105.10" x2="211.20" y2="104.90" stroke="#666" stroke-width="1.3" />
<polyline points="35.70,131.30 38.90,131.30 42.00,124.30 46.60,71.30 48.40,97.80 50.40,107.20 52.30,121.70 55.80,126.60 58.60,129.30 61.50,130.00 64.50,130.30 67.50,130.00 70.50,130.30 73.50,130.00 76.50,130.30 79.50,130.00 82.50,130.00 85.00,129.20 87.10,128.00 88.80,126.80 90.20,124.30 91.80,121.60 95.30,117.80 102.10,121.90 117.40,99.20 119.60,106.50 121.90,99.20 128.30,85.30 140.30,98.30 152.20,105.60 160.80,97.90 167.50,93.00 171.60,96.60 173.40,101.00 174.20,97.90 188.20,97.90 195.40,101.90 202.30,105.10" fill="none" stroke="#111" stroke-width="1.25" stroke-linejoin="round"/>
<polyline points="37.80,38.30 41.60,67.10 44.10,37.60 46.90,38.30 48.50,34.60 51.00,78.60 51.60,92.20 53.40,101.60 55.30,93.20 59.00,106.20 63.30,96.90 64.50,107.80 67.10,111.20 69.90,125.50 72.50,132.30 75.50,132.50 78.50,132.50 81.50,132.50" fill="none" stroke="#111" stroke-width="1.1" stroke-linejoin="round"/>
<circle cx="37.80" cy="38.30" r="2.2" fill="none" stroke="#111" stroke-width="0.8"/>
<circle cx="41.60" cy="67.10" r="2.2" fill="none" stroke="#111" stroke-width="0.8"/>
<circle cx="44.10" cy="37.60" r="2.2" fill="none" stroke="#111" stroke-width="0.8"/>
<circle cx="46.90" cy="38.30" r="2.2" fill="none" stroke="#111" stroke-width="0.8"/>
<circle cx="48.50" cy="34.60" r="2.2" fill="none" stroke="#111" stroke-width="0.8"/>
<circle cx="51.00" cy="78.60" r="2.2" fill="none" stroke="#111" stroke-width="0.8"/>
<circle cx="51.60" cy="92.20" r="2.2" fill="none" stroke="#111" stroke-width="0.8"/>
<circle cx="53.40" cy="101.60" r="2.2" fill="none" stroke="#111" stroke-width="0.8"/>
<circle cx="55.30" cy="93.20" r="2.2" fill="none" stroke="#111" stroke-width="0.8"/>
<circle cx="59.00" cy="106.20" r="2.2" fill="none" stroke="#111" stroke-width="0.8"/>
<circle cx="63.30" cy="96.90" r="2.2" fill="none" stroke="#111" stroke-width="0.8"/>
<circle cx="64.50" cy="107.80" r="2.2" fill="none" stroke="#111" stroke-width="0.8"/>
<circle cx="67.10" cy="111.20" r="2.2" fill="none" stroke="#111" stroke-width="0.8"/>
<circle cx="69.90" cy="125.50" r="2.2" fill="none" stroke="#111" stroke-width="0.8"/>
<circle cx="72.50" cy="132.30" r="2.2" fill="none" stroke="#111" stroke-width="0.8"/>
<circle cx="75.50" cy="132.50" r="2.2" fill="none" stroke="#111" stroke-width="0.8"/>
<circle cx="78.50" cy="132.50" r="2.2" fill="none" stroke="#111" stroke-width="0.8"/>
<circle cx="81.50" cy="132.50" r="2.2" fill="none" stroke="#111" stroke-width="0.8"/>
<circle cx="116.00" cy="132.10" r="2.2" fill="none" stroke="#111" stroke-width="0.8"/>
<path d="M35.70 128.60L38.50 131.30L35.70 134.00L32.90 131.30ZM38.90 128.60L41.70 131.30L38.90 134.00L36.10 131.30ZM42.00 121.60L44.80 124.30L42.00 127.00L39.20 124.30ZM46.60 68.60L49.40 71.30L46.60 74.00L43.80 71.30ZM48.40 95.10L51.20 97.80L48.40 100.50L45.60 97.80ZM50.40 104.50L53.20 107.20L50.40 109.90L47.60 107.20ZM52.30 119.00L55.10 121.70L52.30 124.40L49.50 121.70ZM55.80 123.90L58.60 126.60L55.80 129.30L53.00 126.60ZM58.60 126.60L61.40 129.30L58.60 132.00L55.80 129.30ZM61.50 127.30L64.30 130.00L61.50 132.70L58.70 130.00ZM64.50 127.60L67.30 130.30L64.50 133.00L61.70 130.30ZM67.50 127.30L70.30 130.00L67.50 132.70L64.70 130.00ZM70.50 127.60L73.30 130.30L70.50 133.00L67.70 130.30ZM73.50 127.30L76.30 130.00L73.50 132.70L70.70 130.00ZM76.50 127.60L79.30 130.30L76.50 133.00L73.70 130.30ZM79.50 127.30L82.30 130.00L79.50 132.70L76.70 130.00ZM82.50 127.30L85.30 130.00L82.50 132.70L79.70 130.00ZM85.00 126.50L87.80 129.20L85.00 131.90L82.20 129.20ZM87.10 125.30L89.90 128.00L87.10 130.70L84.30 128.00ZM88.80 124.10L91.60 126.80L88.80 129.50L86.00 126.80ZM90.20 121.60L93.00 124.30L90.20 127.00L87.40 124.30ZM91.80 118.90L94.60 121.60L91.80 124.30L89.00 121.60ZM95.30 115.10L98.10 117.80L95.30 120.50L92.50 117.80ZM102.10 119.20L104.90 121.90L102.10 124.60L99.30 121.90ZM117.40 96.50L120.20 99.20L117.40 101.90L114.60 99.20ZM119.60 103.80L122.40 106.50L119.60 109.20L116.80 106.50ZM121.90 96.50L124.70 99.20L121.90 101.90L119.10 99.20ZM128.30 82.60L131.10 85.30L128.30 88.00L125.50 85.30ZM140.30 95.60L143.10 98.30L140.30 101.00L137.50 98.30ZM152.20 102.90L155.00 105.60L152.20 108.30L149.40 105.60ZM160.80 95.20L163.60 97.90L160.80 100.60L158.00 97.90ZM167.50 90.30L170.30 93.00L167.50 95.70L164.70 93.00ZM171.60 93.90L174.40 96.60L171.60 99.30L168.80 96.60ZM173.40 98.30L176.20 101.00L173.40 103.70L170.60 101.00ZM174.20 95.20L177.00 97.90L174.20 100.60L171.40 97.90ZM188.20 95.20L191.00 97.90L188.20 100.60L185.40 97.90ZM195.40 99.20L198.20 101.90L195.40 104.60L192.60 101.90ZM202.30 102.40L205.10 105.10L202.30 107.80L199.50 105.10Z" fill="#000"/>
<line x1="299.30" y1="111.70" x2="300.80" y2="134.00" stroke="#555" stroke-width="0.9" />
<polyline points="299.50,134.00 302.00,134.00 304.50,134.00 306.80,132.40 309.00,130.20 311.30,132.40 313.80,134.00 316.40,134.00 319.00,134.00 321.60,134.00 324.20,134.00 326.80,134.00 329.40,134.00 332.00,134.00 334.60,134.00 337.20,134.00 339.80,134.00 342.40,134.00 345.00,134.00 347.60,134.00 350.20,134.00 352.80,134.00 355.40,134.00 358.00,134.00 360.60,134.00 363.20,134.00" fill="none" stroke="#111" stroke-width="1.0" stroke-linejoin="round"/>
<line x1="363.80" y1="134.00" x2="371.50" y2="133.80" stroke="#888" stroke-width="1.4" />
<polyline points="371.50,133.80 374.10,133.80 376.70,133.80 379.30,133.80 381.90,133.80 389.70,133.00" fill="none" stroke="#111" stroke-width="1.0" stroke-linejoin="round"/>
<polyline points="389.70,133.00 396.00,75.50 399.00,93.40 402.50,102.60 409.80,104.30 427.10,98.10 430.80,101.60 435.00,103.60 438.30,114.10 441.60,119.50 445.80,123.20 449.10,120.70 449.90,112.90 454.10,110.20 459.10,113.20 462.90,117.40 466.20,99.60 469.90,108.20" fill="none" stroke="#111" stroke-width="1.0" stroke-linejoin="round"/>
<polyline points="301.40,93.40 303.40,112.40 305.20,116.50 306.60,68.00 308.80,101.10 310.50,98.70 313.70,77.20 317.60,51.00 321.30,82.40 325.40,83.60 328.40,94.90 335.20,116.10 339.20,122.50 344.20,127.10 346.10,119.60 350.10,121.30 354.80,123.10 358.20,120.80 362.30,119.60 365.70,122.50 372.10,126.00 374.40,118.50 378.40,127.70 381.50,136.00 385.40,136.20 389.00,136.00 389.80,113.90 393.90,117.00 399.50,113.90 404.30,115.90 408.50,120.70 416.00,124.70 423.80,135.30 430.80,134.90 438.30,134.90 445.80,134.90 454.10,134.90 459.60,134.90" fill="none" stroke="#111" stroke-width="1.0" stroke-linejoin="round"/>
<circle cx="301.40" cy="93.40" r="2.2" fill="none" stroke="#111" stroke-width="0.8"/>
<circle cx="303.40" cy="112.40" r="2.2" fill="none" stroke="#111" stroke-width="0.8"/>
<circle cx="305.20" cy="116.50" r="2.2" fill="none" stroke="#111" stroke-width="0.8"/>
<circle cx="306.60" cy="68.00" r="2.2" fill="none" stroke="#111" stroke-width="0.8"/>
<circle cx="308.80" cy="101.10" r="2.2" fill="none" stroke="#111" stroke-width="0.8"/>
<circle cx="310.50" cy="98.70" r="2.2" fill="none" stroke="#111" stroke-width="0.8"/>
<circle cx="313.70" cy="77.20" r="2.2" fill="none" stroke="#111" stroke-width="0.8"/>
<circle cx="317.60" cy="51.00" r="2.2" fill="none" stroke="#111" stroke-width="0.8"/>
<circle cx="321.30" cy="82.40" r="2.2" fill="none" stroke="#111" stroke-width="0.8"/>
<circle cx="325.40" cy="83.60" r="2.2" fill="none" stroke="#111" stroke-width="0.8"/>
<circle cx="328.40" cy="94.90" r="2.2" fill="none" stroke="#111" stroke-width="0.8"/>
<circle cx="335.20" cy="116.10" r="2.2" fill="none" stroke="#111" stroke-width="0.8"/>
<circle cx="339.20" cy="122.50" r="2.2" fill="none" stroke="#111" stroke-width="0.8"/>
<circle cx="344.20" cy="127.10" r="2.2" fill="none" stroke="#111" stroke-width="0.8"/>
<circle cx="346.10" cy="119.60" r="2.2" fill="none" stroke="#111" stroke-width="0.8"/>
<circle cx="350.10" cy="121.30" r="2.2" fill="none" stroke="#111" stroke-width="0.8"/>
<circle cx="354.80" cy="123.10" r="2.2" fill="none" stroke="#111" stroke-width="0.8"/>
<circle cx="358.20" cy="120.80" r="2.2" fill="none" stroke="#111" stroke-width="0.8"/>
<circle cx="362.30" cy="119.60" r="2.2" fill="none" stroke="#111" stroke-width="0.8"/>
<circle cx="365.70" cy="122.50" r="2.2" fill="none" stroke="#111" stroke-width="0.8"/>
<circle cx="372.10" cy="126.00" r="2.2" fill="none" stroke="#111" stroke-width="0.8"/>
<circle cx="374.40" cy="118.50" r="2.2" fill="none" stroke="#111" stroke-width="0.8"/>
<circle cx="378.40" cy="127.70" r="2.2" fill="none" stroke="#111" stroke-width="0.8"/>
<circle cx="381.50" cy="136.00" r="2.2" fill="none" stroke="#111" stroke-width="0.8"/>
<circle cx="385.40" cy="136.20" r="2.2" fill="none" stroke="#111" stroke-width="0.8"/>
<circle cx="389.00" cy="136.00" r="2.2" fill="none" stroke="#111" stroke-width="0.8"/>
<circle cx="389.80" cy="113.90" r="2.2" fill="none" stroke="#111" stroke-width="0.8"/>
<circle cx="393.90" cy="117.00" r="2.2" fill="none" stroke="#111" stroke-width="0.8"/>
<circle cx="399.50" cy="113.90" r="2.2" fill="none" stroke="#111" stroke-width="0.8"/>
<circle cx="404.30" cy="115.90" r="2.2" fill="none" stroke="#111" stroke-width="0.8"/>
<circle cx="408.50" cy="120.70" r="2.2" fill="none" stroke="#111" stroke-width="0.8"/>
<circle cx="416.00" cy="124.70" r="2.2" fill="none" stroke="#111" stroke-width="0.8"/>
<circle cx="423.80" cy="135.30" r="2.2" fill="none" stroke="#111" stroke-width="0.8"/>
<circle cx="430.80" cy="134.90" r="2.2" fill="none" stroke="#111" stroke-width="0.8"/>
<circle cx="438.30" cy="134.90" r="2.2" fill="none" stroke="#111" stroke-width="0.8"/>
<circle cx="445.80" cy="134.90" r="2.2" fill="none" stroke="#111" stroke-width="0.8"/>
<circle cx="454.10" cy="134.90" r="2.2" fill="none" stroke="#111" stroke-width="0.8"/>
<circle cx="459.60" cy="134.90" r="2.2" fill="none" stroke="#111" stroke-width="0.8"/>
<path d="M299.50 131.20L302.20 134.00L299.50 136.80L296.80 134.00ZM302.00 131.20L304.70 134.00L302.00 136.80L299.30 134.00ZM304.50 131.20L307.20 134.00L304.50 136.80L301.80 134.00ZM306.80 129.60L309.50 132.40L306.80 135.20L304.10 132.40ZM309.00 127.40L311.70 130.20L309.00 133.00L306.30 130.20ZM311.30 129.60L314.00 132.40L311.30 135.20L308.60 132.40ZM313.80 131.20L316.50 134.00L313.80 136.80L311.10 134.00ZM316.40 131.20L319.10 134.00L316.40 136.80L313.70 134.00ZM319.00 131.20L321.70 134.00L319.00 136.80L316.30 134.00ZM321.60 131.20L324.30 134.00L321.60 136.80L318.90 134.00ZM324.20 131.20L326.90 134.00L324.20 136.80L321.50 134.00ZM326.80 131.20L329.50 134.00L326.80 136.80L324.10 134.00ZM329.40 131.20L332.10 134.00L329.40 136.80L326.70 134.00ZM332.00 131.20L334.70 134.00L332.00 136.80L329.30 134.00ZM334.60 131.20L337.30 134.00L334.60 136.80L331.90 134.00ZM337.20 131.20L339.90 134.00L337.20 136.80L334.50 134.00ZM339.80 131.20L342.50 134.00L339.80 136.80L337.10 134.00ZM342.40 131.20L345.10 134.00L342.40 136.80L339.70 134.00ZM345.00 131.20L347.70 134.00L345.00 136.80L342.30 134.00ZM347.60 131.20L350.30 134.00L347.60 136.80L344.90 134.00ZM350.20 131.20L352.90 134.00L350.20 136.80L347.50 134.00ZM352.80 131.20L355.50 134.00L352.80 136.80L350.10 134.00ZM355.40 131.20L358.10 134.00L355.40 136.80L352.70 134.00ZM358.00 131.20L360.70 134.00L358.00 136.80L355.30 134.00ZM360.60 131.20L363.30 134.00L360.60 136.80L357.90 134.00ZM363.20 131.20L365.90 134.00L363.20 136.80L360.50 134.00Z" fill="#000"/>
<path d="M371.50 131.00L374.20 133.80L371.50 136.60L368.80 133.80ZM374.10 131.00L376.80 133.80L374.10 136.60L371.40 133.80ZM376.70 131.00L379.40 133.80L376.70 136.60L374.00 133.80ZM379.30 131.00L382.00 133.80L379.30 136.60L376.60 133.80ZM381.90 131.00L384.60 133.80L381.90 136.60L379.20 133.80ZM389.70 130.20L392.40 133.00L389.70 135.80L387.00 133.00Z" fill="#000"/>
<path d="M389.70 130.30L392.50 133.00L389.70 135.70L386.90 133.00ZM396.00 72.80L398.80 75.50L396.00 78.20L393.20 75.50ZM399.00 90.70L401.80 93.40L399.00 96.10L396.20 93.40ZM402.50 99.90L405.30 102.60L402.50 105.30L399.70 102.60ZM409.80 101.60L412.60 104.30L409.80 107.00L407.00 104.30ZM427.10 95.40L429.90 98.10L427.10 100.80L424.30 98.10ZM430.80 98.90L433.60 101.60L430.80 104.30L428.00 101.60ZM435.00 100.90L437.80 103.60L435.00 106.30L432.20 103.60ZM438.30 111.40L441.10 114.10L438.30 116.80L435.50 114.10ZM441.60 116.80L444.40 119.50L441.60 122.20L438.80 119.50ZM445.80 120.50L448.60 123.20L445.80 125.90L443.00 123.20ZM449.10 118.00L451.90 120.70L449.10 123.40L446.30 120.70ZM449.90 110.20L452.70 112.90L449.90 115.60L447.10 112.90ZM454.10 107.50L456.90 110.20L454.10 112.90L451.30 110.20ZM459.10 110.50L461.90 113.20L459.10 115.90L456.30 113.20ZM462.90 114.70L465.70 117.40L462.90 120.10L460.10 117.40ZM466.20 96.90L469.00 99.60L466.20 102.30L463.40 99.60ZM469.90 105.50L472.70 108.20L469.90 110.90L467.10 108.20Z" fill="#000"/>
<polyline points="34.00,320.40 35.90,319.30 37.50,307.70 39.50,294.70 41.10,310.50 42.50,317.70 44.00,316.60 46.40,314.00 48.40,308.80 50.30,313.60 52.50,316.00 55.30,318.20 58.00,320.00 60.90,320.00 63.80,320.00 66.70,320.00 69.60,320.00 72.50,320.00 75.40,320.00 78.30,320.00 81.20,320.00 84.10,320.00 87.00,320.00 89.90,320.00 92.80,320.00" fill="none" stroke="#111" stroke-width="1.0" stroke-linejoin="round"/>
<polyline points="93.00,320.00 98.90,199.50" fill="none" stroke="#111" stroke-width="1.0" stroke-linejoin="round"/>
<polyline points="101.60,199.50 103.70,239.20 111.60,272.50 132.90,294.90 137.20,290.60 168.00,274.90 174.60,269.60" fill="none" stroke="#111" stroke-width="1.0" stroke-linejoin="round"/>
<polyline points="42.10,250.70 43.30,223.00 45.50,224.60 47.60,227.00 48.80,244.10 52.60,232.50 57.80,264.80 61.60,277.90 65.10,269.00 68.40,266.60 72.30,291.80 75.60,301.90 79.10,288.40 82.60,273.40 86.00,303.60 89.80,309.20 89.80,309.20 92.70,319.50" fill="none" stroke="#111" stroke-width="1.0" stroke-linejoin="round"/>
<polyline points="108.70,321.80 111.60,272.50 128.00,229.20 129.00,221.10 132.80,230.20 136.50,254.20 150.00,267.20 151.30,216.40 153.30,254.90 155.80,218.30 160.30,221.60 159.40,225.80 162.50,269.10 164.10,289.80 165.80,249.10 169.60,277.90 170.80,259.60 174.60,283.40" fill="none" stroke="#111" stroke-width="1.0" stroke-linejoin="round"/>
<circle cx="42.10" cy="250.70" r="2.2" fill="none" stroke="#111" stroke-width="0.8"/>
<circle cx="43.30" cy="223.00" r="2.2" fill="none" stroke="#111" stroke-width="0.8"/>
<circle cx="45.50" cy="224.60" r="2.2" fill="none" stroke="#111" stroke-width="0.8"/>
<circle cx="47.60" cy="227.00" r="2.2" fill="none" stroke="#111" stroke-width="0.8"/>
<circle cx="48.80" cy="244.10" r="2.2" fill="none" stroke="#111" stroke-width="0.8"/>
<circle cx="52.60" cy="232.50" r="2.2" fill="none" stroke="#111" stroke-width="0.8"/>
<circle cx="57.80" cy="264.80" r="2.2" fill="none" stroke="#111" stroke-width="0.8"/>
<circle cx="61.60" cy="277.90" r="2.2" fill="none" stroke="#111" stroke-width="0.8"/>
<circle cx="65.10" cy="269.00" r="2.2" fill="none" stroke="#111" stroke-width="0.8"/>
<circle cx="68.40" cy="266.60" r="2.2" fill="none" stroke="#111" stroke-width="0.8"/>
<circle cx="72.30" cy="291.80" r="2.2" fill="none" stroke="#111" stroke-width="0.8"/>
<circle cx="75.60" cy="301.90" r="2.2" fill="none" stroke="#111" stroke-width="0.8"/>
<circle cx="79.10" cy="288.40" r="2.2" fill="none" stroke="#111" stroke-width="0.8"/>
<circle cx="82.60" cy="273.40" r="2.2" fill="none" stroke="#111" stroke-width="0.8"/>
<circle cx="86.00" cy="303.60" r="2.2" fill="none" stroke="#111" stroke-width="0.8"/>
<circle cx="89.80" cy="309.20" r="2.2" fill="none" stroke="#111" stroke-width="0.8"/>
<circle cx="108.70" cy="321.80" r="2.2" fill="none" stroke="#111" stroke-width="0.8"/>
<circle cx="128.00" cy="229.20" r="2.2" fill="none" stroke="#111" stroke-width="0.8"/>
<circle cx="129.00" cy="221.10" r="2.2" fill="none" stroke="#111" stroke-width="0.8"/>
<circle cx="132.80" cy="230.20" r="2.2" fill="none" stroke="#111" stroke-width="0.8"/>
<circle cx="136.50" cy="254.20" r="2.2" fill="none" stroke="#111" stroke-width="0.8"/>
<circle cx="150.00" cy="267.20" r="2.2" fill="none" stroke="#111" stroke-width="0.8"/>
<circle cx="151.30" cy="216.40" r="2.2" fill="none" stroke="#111" stroke-width="0.8"/>
<circle cx="153.30" cy="254.90" r="2.2" fill="none" stroke="#111" stroke-width="0.8"/>
<circle cx="155.80" cy="218.30" r="2.2" fill="none" stroke="#111" stroke-width="0.8"/>
<circle cx="160.30" cy="221.60" r="2.2" fill="none" stroke="#111" stroke-width="0.8"/>
<circle cx="159.40" cy="225.80" r="2.2" fill="none" stroke="#111" stroke-width="0.8"/>
<circle cx="162.50" cy="269.10" r="2.2" fill="none" stroke="#111" stroke-width="0.8"/>
<circle cx="164.10" cy="289.80" r="2.2" fill="none" stroke="#111" stroke-width="0.8"/>
<circle cx="165.80" cy="249.10" r="2.2" fill="none" stroke="#111" stroke-width="0.8"/>
<circle cx="169.60" cy="277.90" r="2.2" fill="none" stroke="#111" stroke-width="0.8"/>
<circle cx="170.80" cy="259.60" r="2.2" fill="none" stroke="#111" stroke-width="0.8"/>
<circle cx="174.60" cy="283.40" r="2.2" fill="none" stroke="#111" stroke-width="0.8"/>
<path d="M34.00 317.70L36.80 320.40L34.00 323.10L31.20 320.40ZM35.90 316.60L38.70 319.30L35.90 322.00L33.10 319.30ZM37.50 305.00L40.30 307.70L37.50 310.40L34.70 307.70ZM39.50 292.00L42.30 294.70L39.50 297.40L36.70 294.70ZM41.10 307.80L43.90 310.50L41.10 313.20L38.30 310.50ZM42.50 315.00L45.30 317.70L42.50 320.40L39.70 317.70ZM44.00 313.90L46.80 316.60L44.00 319.30L41.20 316.60ZM46.40 311.30L49.20 314.00L46.40 316.70L43.60 314.00ZM48.40 306.10L51.20 308.80L48.40 311.50L45.60 308.80ZM50.30 310.90L53.10 313.60L50.30 316.30L47.50 313.60ZM52.50 313.30L55.30 316.00L52.50 318.70L49.70 316.00ZM55.30 315.50L58.10 318.20L55.30 320.90L52.50 318.20Z" fill="#000"/>
<path d="M58.00 317.20L60.70 320.00L58.00 322.80L55.30 320.00ZM60.90 317.20L63.60 320.00L60.90 322.80L58.20 320.00ZM63.80 317.20L66.50 320.00L63.80 322.80L61.10 320.00ZM66.70 317.20L69.40 320.00L66.70 322.80L64.00 320.00ZM69.60 317.20L72.30 320.00L69.60 322.80L66.90 320.00ZM72.50 317.20L75.20 320.00L72.50 322.80L69.80 320.00ZM75.40 317.20L78.10 320.00L75.40 322.80L72.70 320.00ZM78.30 317.20L81.00 320.00L78.30 322.80L75.60 320.00ZM81.20 317.20L83.90 320.00L81.20 322.80L78.50 320.00ZM84.10 317.20L86.80 320.00L84.10 322.80L81.40 320.00ZM87.00 317.20L89.70 320.00L87.00 322.80L84.30 320.00ZM89.90 317.20L92.60 320.00L89.90 322.80L87.20 320.00ZM92.80 317.20L95.50 320.00L92.80 322.80L90.10 320.00Z" fill="#000"/>
<path d="M103.70 236.50L106.50 239.20L103.70 241.90L100.90 239.20ZM111.60 269.80L114.40 272.50L111.60 275.20L108.80 272.50ZM132.90 292.20L135.70 294.90L132.90 297.60L130.10 294.90ZM137.20 287.90L140.00 290.60L137.20 293.30L134.40 290.60ZM168.00 272.20L170.80 274.90L168.00 277.60L165.20 274.90ZM174.60 266.90L177.40 269.60L174.60 272.30L171.80 269.60Z" fill="#000"/>
<polyline points="302.30,249.50 338.20,267.80 342.40,260.70 356.60,304.80 360.10,300.80 363.40,311.70 368.50,319.30" fill="none" stroke="#111" stroke-width="1.0" stroke-linejoin="round"/>
<polyline points="300.30,314.80 305.20,312.60 307.80,311.10 309.50,312.00 311.00,313.20 312.50,314.50 313.80,315.60 315.00,315.50 316.50,315.20 318.50,314.00 320.20,313.60 321.90,313.50 323.30,314.40 324.80,315.50 326.20,316.40 327.70,317.30 330.50,317.30 333.40,317.30 336.30,317.30 339.20,317.30 342.10,317.30 345.00,317.30 347.90,317.30 350.80,317.30 353.70,317.30 356.60,317.30 359.50,317.30 362.40,317.30 365.30,317.30 368.20,317.30 371.10,317.30 374.00,317.30 376.90,317.30 379.80,317.30 383.80,315.30 386.70,315.30 389.60,315.30 392.50,315.30 395.40,315.30 398.30,315.30 401.20,315.30 407.40,310.80 409.70,286.90 411.20,241.70 412.60,227.80 419.90,272.80 450.00,278.80" fill="none" stroke="#111" stroke-width="1.0" stroke-linejoin="round"/>
<line x1="450.00" y1="278.80" x2="477.60" y2="278.80" stroke="#777" stroke-width="1.6" />
<circle cx="338.20" cy="267.80" r="2.2" fill="none" stroke="#111" stroke-width="0.8"/>
<circle cx="342.40" cy="260.70" r="2.2" fill="none" stroke="#111" stroke-width="0.8"/>
<circle cx="356.60" cy="304.80" r="2.2" fill="none" stroke="#111" stroke-width="0.8"/>
<circle cx="360.10" cy="300.80" r="2.2" fill="none" stroke="#111" stroke-width="0.8"/>
<circle cx="363.40" cy="311.70" r="2.2" fill="none" stroke="#111" stroke-width="0.8"/>
<circle cx="368.50" cy="319.30" r="2.2" fill="none" stroke="#111" stroke-width="0.8"/>
<circle cx="371.70" cy="319.30" r="2.2" fill="none" stroke="#111" stroke-width="0.8"/>
<circle cx="374.90" cy="319.30" r="2.2" fill="none" stroke="#111" stroke-width="0.8"/>
<circle cx="378.10" cy="319.30" r="2.2" fill="none" stroke="#111" stroke-width="0.8"/>
<circle cx="381.30" cy="319.30" r="2.2" fill="none" stroke="#111" stroke-width="0.8"/>
<circle cx="384.50" cy="319.30" r="2.2" fill="none" stroke="#111" stroke-width="0.8"/>
<circle cx="387.70" cy="319.30" r="2.2" fill="none" stroke="#111" stroke-width="0.8"/>
<circle cx="390.90" cy="319.30" r="2.2" fill="none" stroke="#111" stroke-width="0.8"/>
<path d="M307.80 308.70L310.20 311.10L307.80 313.50L305.40 311.10ZM309.50 309.60L311.90 312.00L309.50 314.40L307.10 312.00ZM311.00 310.80L313.40 313.20L311.00 315.60L308.60 313.20ZM312.50 312.10L314.90 314.50L312.50 316.90L310.10 314.50ZM313.80 313.20L316.20 315.60L313.80 318.00L311.40 315.60ZM315.00 313.10L317.40 315.50L315.00 317.90L312.60 315.50ZM316.50 312.80L318.90 315.20L316.50 317.60L314.10 315.20ZM318.50 311.60L320.90 314.00L318.50 316.40L316.10 314.00ZM320.20 311.20L322.60 313.60L320.20 316.00L317.80 313.60ZM321.90 311.10L324.30 313.50L321.90 315.90L319.50 313.50ZM323.30 312.00L325.70 314.40L323.30 316.80L320.90 314.40ZM324.80 313.10L327.20 315.50L324.80 317.90L322.40 315.50ZM326.20 314.00L328.60 316.40L326.20 318.80L323.80 316.40ZM327.70 314.90L330.10 317.30L327.70 319.70L325.30 317.30Z" fill="#000"/>
<path d="M330.50 314.50L333.20 317.30L330.50 320.10L327.80 317.30ZM333.40 314.50L336.10 317.30L333.40 320.10L330.70 317.30ZM336.30 314.50L339.00 317.30L336.30 320.10L333.60 317.30ZM339.20 314.50L341.90 317.30L339.20 320.10L336.50 317.30ZM342.10 314.50L344.80 317.30L342.10 320.10L339.40 317.30ZM345.00 314.50L347.70 317.30L345.00 320.10L342.30 317.30ZM347.90 314.50L350.60 317.30L347.90 320.10L345.20 317.30ZM350.80 314.50L353.50 317.30L350.80 320.10L348.10 317.30ZM353.70 314.50L356.40 317.30L353.70 320.10L351.00 317.30ZM356.60 314.50L359.30 317.30L356.60 320.10L353.90 317.30ZM359.50 314.50L362.20 317.30L359.50 320.10L356.80 317.30ZM362.40 314.50L365.10 317.30L362.40 320.10L359.70 317.30ZM365.30 314.50L368.00 317.30L365.30 320.10L362.60 317.30ZM368.20 314.50L370.90 317.30L368.20 320.10L365.50 317.30ZM371.10 314.50L373.80 317.30L371.10 320.10L368.40 317.30ZM374.00 314.50L376.70 317.30L374.00 320.10L371.30 317.30ZM376.90 314.50L379.60 317.30L376.90 320.10L374.20 317.30ZM379.80 314.50L382.50 317.30L379.80 320.10L377.10 317.30ZM383.80 312.50L386.50 315.30L383.80 318.10L381.10 315.30ZM386.70 312.50L389.40 315.30L386.70 318.10L384.00 315.30ZM389.60 312.50L392.30 315.30L389.60 318.10L386.90 315.30ZM392.50 312.50L395.20 315.30L392.50 318.10L389.80 315.30ZM395.40 312.50L398.10 315.30L395.40 318.10L392.70 315.30ZM398.30 312.50L401.00 315.30L398.30 318.10L395.60 315.30ZM401.20 312.50L403.90 315.30L401.20 318.10L398.50 315.30Z" fill="#000"/>
<path d="M407.40 308.10L410.20 310.80L407.40 313.50L404.60 310.80ZM409.70 284.20L412.50 286.90L409.70 289.60L406.90 286.90ZM411.20 239.00L414.00 241.70L411.20 244.40L408.40 241.70ZM412.60 225.10L415.40 227.80L412.60 230.50L409.80 227.80ZM419.90 270.10L422.70 272.80L419.90 275.50L417.10 272.80ZM450.00 276.10L452.80 278.80L450.00 281.50L447.20 278.80Z" fill="#000"/>
<circle cx="405.50" cy="319.30" r="2.2" fill="none" stroke="#111" stroke-width="0.8"/>
<circle cx="409.50" cy="319.30" r="2.2" fill="none" stroke="#111" stroke-width="0.8"/>
</svg>
</body></html>
